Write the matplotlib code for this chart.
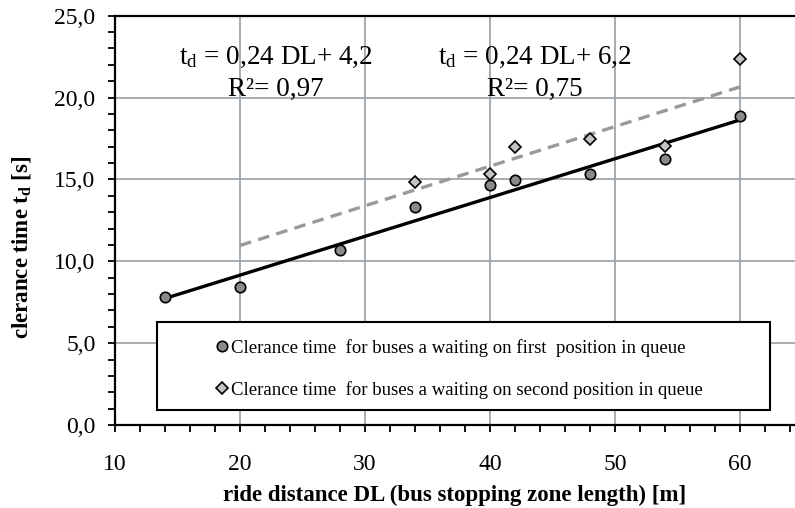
import matplotlib.pyplot as plt
import numpy as np
from matplotlib.patches import Rectangle
from matplotlib.ticker import MultipleLocator, FuncFormatter

plt.rcParams['font.family'] = ['Liberation Serif', 'DejaVu Serif']
plt.rcParams['mathtext.fontset'] = 'custom'
plt.rcParams['mathtext.rm'] = 'Liberation Serif'
plt.rcParams['mathtext.it'] = 'Liberation Serif'
plt.rcParams['mathtext.bf'] = 'Liberation Serif:bold'

# data
dl_first = [14, 20, 28, 34, 40, 42, 48, 54, 60]
td_first = [7.8, 8.45, 10.7, 13.3, 14.65, 14.95, 15.35, 16.25, 18.85]
dl_second = [34, 40, 42, 48, 54, 60]
td_second = [14.85, 15.35, 17.0, 17.45, 17.05, 22.35]
trend_first_range = [14, 60]
trend_second_range = [20, 60]

label_first = "Clerance time  for buses a waiting on first  position in queue"
label_second = "Clerance time  for buses a waiting on second position in queue"
eq_first = ["t$_\\mathrm{d}$ = 0,24 DL+ 4,2", "R²= 0,97"]
eq_second = ["t$_\\mathrm{d}$ = 0,24 DL+ 6,2", "R²= 0,75"]

fig = plt.figure(figsize=(7.95, 5.08), dpi=100)
ax = fig.add_axes([115 / 795, 83 / 508, 680 / 795, 409.3 / 508])

grid_col = '#9ea6ad'
ax.set_xlim(10, 64.4)
ax.set_ylim(0, 25)
ax.xaxis.set_major_locator(MultipleLocator(10))
ax.xaxis.set_minor_locator(MultipleLocator(2))
ax.yaxis.set_major_locator(MultipleLocator(5))
ax.yaxis.set_minor_locator(MultipleLocator(1))
ax.yaxis.set_major_formatter(FuncFormatter(lambda v, p: f"{v:.1f}".replace('.', ',')))
ax.grid(True, which='major', color=grid_col, lw=1.3, zorder=0)
ax.set_axisbelow(True)

ax.tick_params(which='both', direction='out', length=5, width=1.3, colors='black')
ax.tick_params(axis='x', which='major', pad=16, labelsize=17)
ax.tick_params(axis='y', which='major', pad=9, labelsize=17)
for s in ['left', 'bottom', 'top']:
    ax.spines[s].set_linewidth(1.6)
ax.spines['right'].set_visible(False)

# trend lines
p1 = np.polyfit(dl_first, td_first, 1)
p2 = np.polyfit(dl_second, td_second, 1)
x1 = np.array(trend_first_range)
x2 = np.array(trend_second_range)
ax.plot(x1, np.polyval(p1, x1), color='black', lw=2.4, zorder=3)
ax.plot(x2, np.polyval(p2, x2), color='#999999', lw=2.4, ls=(0, (3.5, 2.2)), zorder=3)

h1, = ax.plot(dl_first, td_first, ls='none', marker='o', ms=7.5, mfc='#8a8a8a',
              mec='black', mew=1.2, zorder=5)
h2, = ax.plot(dl_second, td_second, ls='none', marker='D', ms=6.5, mfc='#c4c4c4',
              mec='black', mew=1.2, zorder=4)

# equations
for x0, lines in [(22.9, eq_first), (43.6, eq_second)]:
    ax.text(x0, 22.05, lines[0], ha='center', va='baseline', fontsize=19.5, zorder=6)
    ax.text(x0, 20.1, lines[1], ha='center', va='baseline', fontsize=19.5, zorder=6)

# legend box
ax.add_patch(Rectangle((0.0618, 0.0366), 0.9015, 0.215, transform=ax.transAxes,
                       facecolor='white', edgecolor='black', lw=1.5, zorder=6))
leg = ax.legend([h1, h2], [label_first, label_second], frameon=False,
                loc='center left', bbox_to_anchor=(0.1468, 0.137),
                borderpad=0, borderaxespad=0, handlelength=0.8,
                handletextpad=0.05, labelspacing=1.3, fontsize=13.5)
leg.set_zorder(7)

ax.set_xlabel("ride distance DL (bus stopping zone length) [m]", fontsize=16.5,
              fontweight='bold', va='top')
ax.xaxis.set_label_coords(0.5, -0.145)
ax.set_ylabel("clerance time t$_\\mathbf{d}$ [s]", fontsize=16.5, fontweight='bold')
ax.yaxis.set_label_coords(-0.12, 0.435)

fig.savefig('out.png', dpi=100)
